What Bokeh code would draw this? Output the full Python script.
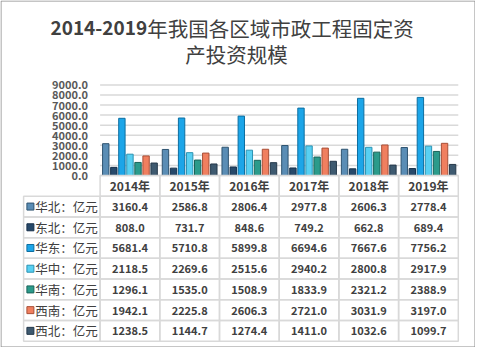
from bokeh.plotting import figure
from bokeh.models import Range1d, ColumnDataSource
from bokeh.transform import dodge
from bokeh.embed import file_html
from bokeh.resources import INLINE
from bokeh.core.properties import value

# ---------------- data ----------------
title_year = "2014-2019"
title_rest1 = "年我国各区域市政工程固定资"
title_line2 = "产投资规模"

years = ["2014年", "2015年", "2016年", "2017年", "2018年", "2019年"]
regions = ["华北", "东北", "华东", "华中", "华南", "西南", "西北"]
unit = "亿元"

huabei = [3160.4, 2586.8, 2806.4, 2977.8, 2606.3, 2778.4]
dongbei = [808.0, 731.7, 848.6, 749.2, 662.8, 689.4]
huadong = [5681.4, 5710.8, 5899.8, 6694.6, 7667.6, 7756.2]
huazhong = [2118.5, 2269.6, 2515.6, 2940.2, 2800.8, 2917.9]
huanan = [1296.1, 1535.0, 1508.9, 1833.9, 2321.2, 2388.9]
xinan = [1942.1, 2225.8, 2606.3, 2721.0, 3031.9, 3197.0]
xibei = [1238.5, 1144.7, 1274.4, 1411.0, 1032.6, 1099.7]
series = [huabei, dongbei, huadong, huazhong, huanan, xinan, xibei]

y_ticks = [0, 1000, 2000, 3000, 4000, 5000, 6000, 7000, 8000, 9000]
y_max = 9000

colors = ["#5a8db5", "#27496a", "#1ca5e8", "#58d0f2", "#2b9b8b", "#f07f5f", "#3e5a70"]
edges = ["#2f5470", "#17304a", "#0d6ea0", "#2b93b3", "#1a6359", "#a84f37", "#24384a"]

FONT = "Noto Sans CJK SC"
TXT = "#404040"
GRID = "#d9d9d9"

# ---------------- layout (canvas pixels) ----------------
W, H = 475, 347
PLOT_L, PLOT_R = 99.6, 457.8      # chart / year columns left & right
PLOT_T, PLOT_B = 84.4, 175.0      # y_max line and zero line
TAB_L, TAB_B = 23.1, 340.7        # table left edge, table bottom
NROW = len(regions) + 1
CW = (PLOT_R - PLOT_L) / len(years)   # column width
RH = (TAB_B - PLOT_B) / NROW          # row height
VPX = y_max / (PLOT_B - PLOT_T)       # value per pixel
LAB = (PLOT_L - TAB_L) / CW           # label column width (column units)


def cx(px):
    return (px - PLOT_L) / CW


def ty(py):
    return (py - PLOT_B) / RH


p = figure(width=W, height=H, output_backend="svg", toolbar_location=None,
           x_axis_location=None, y_axis_location=None,
           x_range=Range1d(cx(0), cx(W)),
           y_range=Range1d(-(H - PLOT_B) * VPX, y_max + PLOT_T * VPX),
           min_border=0, min_border_left=0, min_border_right=0,
           min_border_top=0, min_border_bottom=0)
p.extra_y_ranges = {"tbl": Range1d(ty(H), ty(0))}
p.outline_line_color = None
p.border_fill_color = "white"
p.background_fill_color = "white"
p.grid.visible = False

# ---------------- chart ----------------
nyear = len(years)
p.segment(x0=[0] * len(y_ticks), x1=[nyear] * len(y_ticks), y0=y_ticks, y1=y_ticks,
          line_color=GRID, line_width=1.5)
p.text(x=[cx(PLOT_L - 12)] * len(y_ticks), y=y_ticks, text=[f"{t:.1f}" for t in y_ticks],
       text_align="right", text_baseline="middle", text_font=value(FONT),
       text_font_size="11px", text_font_style="bold", text_color="#595959")

src = ColumnDataSource(dict(xi=[i + 0.5 for i in range(nyear)],
                            **{f"s{j}": s for j, s in enumerate(series)}))
for j in range(len(series)):
    p.vbar(x=dodge("xi", (j - 3) * 0.135), top=f"s{j}", bottom=0, width=0.107,
           source=src, fill_color=colors[j], line_color=edges[j], line_width=1)

# ---------------- title ----------------
p.text(x=[cx(146.7)], y=[ty(27.2)], text=[title_year], y_range_name="tbl",
       text_align="right", text_baseline="middle", text_font=value(FONT),
       text_font_size="19px", text_font_style="bold", text_color=TXT)
p.text(x=[cx(146.7)], y=[ty(27.2)], text=[title_rest1], y_range_name="tbl",
       text_align="left", text_baseline="middle", text_font=value(FONT),
       text_font_size="20.5px", text_color=TXT)
p.text(x=[cx(236)], y=[ty(53.3)], text=[title_line2], y_range_name="tbl",
       text_align="center", text_baseline="middle", text_font=value(FONT),
       text_font_size="20.5px", text_color=TXT)

# ---------------- table ----------------
hx = [i + 0.5 for i in range(nyear)]
p.rect(x=hx, y=[0.5] * nyear, width=1, height=1, y_range_name="tbl", fill_alpha=0,
       line_color=GRID, line_width=1.5)
p.text(x=hx, y=[0.5] * nyear, text=years, y_range_name="tbl", text_align="center",
       text_baseline="middle", text_font=value(FONT), text_font_size="12px",
       text_font_style="bold", text_color=TXT)

vx, vy, vt = [], [], []
for r, s in enumerate(series):
    for i, v in enumerate(s):
        vx.append(i + 0.5)
        vy.append(r + 1.5)
        vt.append(f"{v:.1f}")
p.rect(x=vx, y=vy, width=1, height=1, y_range_name="tbl", fill_alpha=0,
       line_color=GRID, line_width=1.5)
p.text(x=vx, y=vy, text=vt, y_range_name="tbl", text_align="center",
       text_baseline="middle", text_font=value(FONT), text_font_size="11px",
       text_font_style="bold", text_color=TXT)

nreg = len(regions)
ry = [r + 1.5 for r in range(nreg)]
p.rect(x=[-LAB / 2] * nreg, y=ry, width=LAB, height=1, y_range_name="tbl", fill_alpha=0,
       line_color=GRID, line_width=1.5)
p.rect(x=[cx(TAB_L + 6.8)] * nreg, y=ry, width=7, height=7, width_units="screen",
       height_units="screen", y_range_name="tbl", fill_color=colors, line_color=edges,
       line_width=1)
p.text(x=[cx(TAB_L + 11.7)] * nreg, y=ry, text=[f"{g}：{unit}" for g in regions],
       y_range_name="tbl", text_align="left", text_baseline="middle",
       text_font=value(FONT), text_font_size="12.5px", text_color=TXT)

# ---------------- outer border ----------------
p.quad(left=[cx(0.5)], right=[cx(W - 0.5)], top=[ty(0.5)], bottom=[ty(H - 0.5)],
       y_range_name="tbl", fill_alpha=0, line_color="#8c8c8c", line_width=1)

open("out.html", "w").write(file_html(p, INLINE))
